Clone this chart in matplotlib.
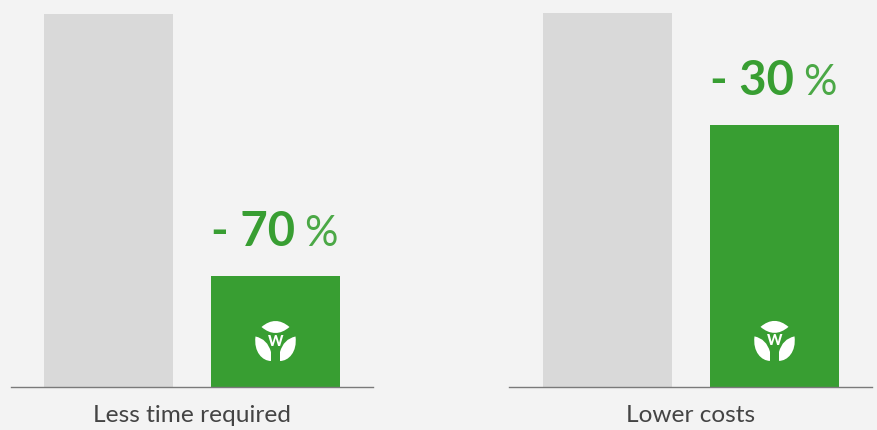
import matplotlib
matplotlib.use('Agg')
import matplotlib.pyplot as plt
from matplotlib.patches import PathPatch
from matplotlib.path import Path
from matplotlib.transforms import Affine2D

plt.rcParams['font.family'] = ['Lato', 'DejaVu Sans']

W, H = 878, 430
BG = '#f3f3f3'
GREY = '#d9d9d9'
GREEN = '#389e32'

titles = ['Less time required', 'Lower costs']
before = [100, 100]
after = [29.8, 70]
savings = ['- 70', '- 30']

# axes boxes in pixels: left, right, top of the grey bar
boxes = [(11, 373, 14), (509, 872, 13)]

# logo shapes, pixels around the logo centre, y up
top_leaf = [(Path.MOVETO, (-14, 16)), (Path.CURVE3, (0, 28)), (Path.CURVE3, (14, 16)),
            (Path.CURVE3, (0, 4)), (Path.CURVE3, (-14, 16)), (Path.CLOSEPOLY, (-14, 16))]
left_leaf = [(Path.MOVETO, (-20, 6.5)), (Path.CURVE3, (-8, 4)), (Path.CURVE3, (-4.5, -9)),
             (Path.LINETO, (-4.5, -18)),
             (Path.CURVE4, (-13, -18)), (Path.CURVE4, (-22, -9)), (Path.CURVE4, (-20, 6.5)),
             (Path.CLOSEPOLY, (-20, 6.5))]


def make_path(parts, flip=False):
    codes = [c for c, _ in parts]
    verts = [(-p[0] if flip else p[0], p[1]) for _, p in parts]
    return Path(verts, codes)


def draw_logo(ax, x, y):
    cx, cy = ax.transData.transform((x, y))
    tr = Affine2D().translate(cx, cy)
    for p in [make_path(top_leaf), make_path(left_leaf), make_path(left_leaf, True)]:
        ax.add_patch(PathPatch(p, facecolor='white', edgecolor='none', transform=tr, zorder=3))
    ax.annotate('W', (x, y), xytext=(0, 1.5), textcoords='offset pixels', color='white',
                fontsize=10.5, fontweight='black', ha='center', va='center', zorder=4)


fig = plt.figure(figsize=(W / 100, H / 100), dpi=100, facecolor=BG)

for i in range(2):
    left, right, top = boxes[i]
    base = H - 387
    ax = fig.add_axes([left / W, base / H, (right - left) / W, (387 - top) / H], facecolor=BG)
    ax.bar([0, 1], [before[i], after[i]], width=129 / 167, color=[GREY, GREEN])
    ax.set_ylim(0, 100)
    bar_left = (left + 33 if i == 0 else left + 34)
    ax.set_xlim((left - (bar_left + 64.5)) / 167, (right - (bar_left + 64.5)) / 167)
    for s in ['top', 'left', 'right']:
        ax.spines[s].set_visible(False)
    ax.spines['bottom'].set_color('#7a7a7a')
    ax.spines['bottom'].set_linewidth(1.0)
    ax.set_yticks([])
    ax.set_xticks([])
    ax.set_xlabel(titles[i], fontsize=17.6, color='#444444', labelpad=13)

    x0 = 1 - 129 / 167 / 2
    ax.annotate(savings[i], (x0, after[i]), xytext=(0, 30), textcoords='offset pixels',
                fontsize=34, fontweight='bold', color=GREEN, ha='left', va='baseline')
    ax.annotate('%', (x0, after[i]), xytext=(93, 30), textcoords='offset pixels',
                fontsize=30, color='#4ba846', ha='left', va='baseline')
    draw_logo(ax, 1, 44 / 373 * 100)

fig.savefig('out.png', dpi=100, facecolor=BG)
